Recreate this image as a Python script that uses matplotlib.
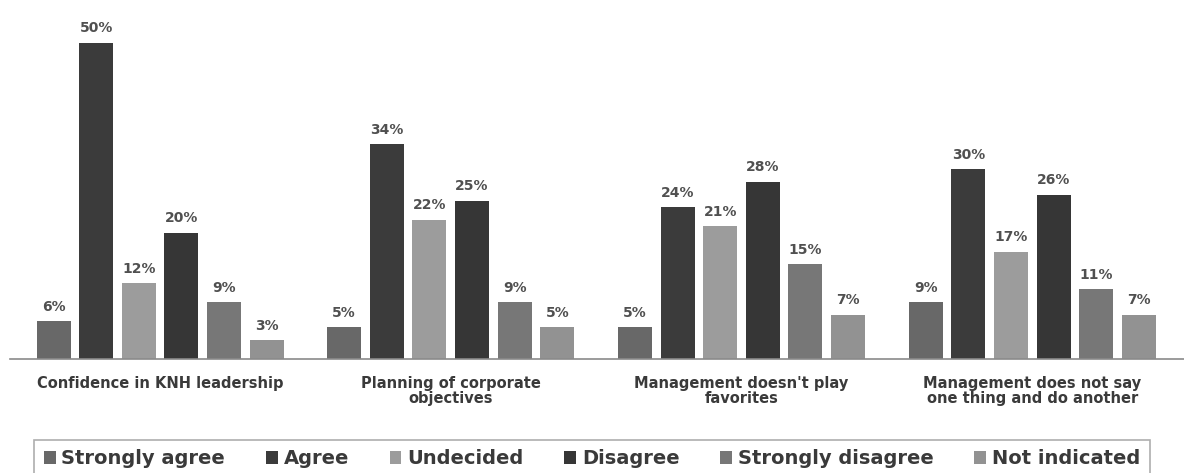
import matplotlib
matplotlib.use("Agg")
import matplotlib.pyplot as plt
from matplotlib.patches import Patch
import numpy as np

categories = [
    "Confidence in KNH leadership",
    "Planning of corporate\nobjectives",
    "Management doesn't play\nfavorites",
    "Management does not say\none thing and do another",
]
series = ["Strongly agree", "Agree", "Undecided", "Disagree",
          "Strongly disagree", "Not indicated"]
strongly_agree = [6, 5, 5, 9]
agree = [50, 34, 24, 30]
undecided = [12, 22, 21, 17]
disagree = [20, 25, 28, 26]
strongly_disagree = [9, 9, 15, 11]
not_indicated = [3, 5, 7, 7]

values = [strongly_agree, agree, undecided, disagree, strongly_disagree, not_indicated]
colors = ["#686868", "#3b3b3b", "#9c9c9c", "#363636", "#777777", "#929292"]

fig = plt.figure(figsize=(11.84, 4.73), dpi=100)
ax = fig.add_axes([0.0085, 0.241, 0.9915, 0.759])

x = np.arange(len(categories))
slot = 0.1466
width = 0.117
for j, (name, vals, col) in enumerate(zip(series, values, colors)):
    pos = x + (j - 2.5) * slot
    bars = ax.bar(pos, vals, width=width, color=col, label=name, zorder=2)
    for b, v in zip(bars, vals):
        ax.text(b.get_x() + b.get_width() / 2, v + 2.3, f"{v}%",
                ha="center", va="center", fontsize=10, fontweight="bold",
                color="#505050", family="DejaVu Sans")

ax.set_xlim(-0.516, 3.522)
ax.set_ylim(0, 56.8)
for s in ["top", "right", "left"]:
    ax.spines[s].set_visible(False)
ax.spines["bottom"].set_color("#8a8a8a")
ax.spines["bottom"].set_linewidth(1.2)
ax.set_yticks([])
ax.set_xticks(x)
ax.set_xticklabels(categories, fontsize=10.5, fontweight="bold", color="#3a3a3a",
                   family="DejaVu Sans", linespacing=1.05)
ax.tick_params(axis="x", length=0, pad=12)

handles = [Patch(facecolor=c, edgecolor="none") for c in colors]
leg = fig.legend(handles, series, loc="center", bbox_to_anchor=(0.5, 0.03),
                 ncol=6, frameon=True, fancybox=False,
                 prop={"family": "DejaVu Sans", "size": 14, "weight": "bold"},
                 handlelength=0.6, handleheight=0.6, handletextpad=0.3,
                 columnspacing=2.1, borderpad=0.5, borderaxespad=0.0,
                 edgecolor="#9a9a9a")
leg.get_frame().set_linewidth(1.2)
for t in leg.get_texts():
    t.set_color("#3a3a3a")

fig.savefig("out.png", dpi=100, facecolor="white")
